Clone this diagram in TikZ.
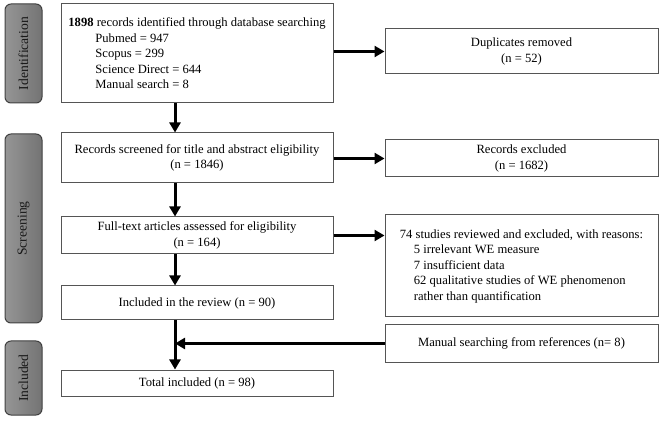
\documentclass[tikz,border=0pt]{standalone}
\usepackage{fontspec}
\setmainfont{Liberation Serif}
\usetikzlibrary{arrows.meta,positioning,calc}
\definecolor{frame}{RGB}{85,85,85}
\definecolor{phasedark}{RGB}{115,115,115}
\definecolor{phaselight}{RGB}{150,150,150}

\begin{document}
\begin{tikzpicture}[x=1pt,y=1pt]

		\def\bw{272}
		\def\flow{175}

		\tikzset{box/.style={draw=frame,line width=1pt,fill=white,minimum width=\bw pt,inner sep=0pt,font=\fontsize{12.6}{15.5}\selectfont,align=center}}
		\tikzset{phase/.style={draw=black!75,line width=1pt,rounded corners=6pt,minimum height=37pt,inner sep=0pt,left color=phaselight,right color=phasedark,shading angle=90,font=\fontsize{13.6}{15}\selectfont,text=black!90}}
		\tikzset{line/.style={draw,line width=3pt}}
		\tikzset{arrow/.style={line,-{Triangle[length=10pt,width=11pt]}}}

		\useasboundingbox (0,0) rectangle (663,420);

		% phases
		\node[phase,rotate=90,minimum width=99pt] (idlab) at (23.5,366.5) {Identification};
		\node[phase,rotate=90,minimum width=189pt] (scrlab) at (23.5,191.5) {Screening};
		\node[phase,rotate=90,minimum width=74pt] (inclab) at (23.5,42) {Included};

		% main column
		\node[box,minimum height=99pt,align=left] (rec) at (197,366.5) {\textbf{1898} records identified through database searching\\
			\hspace*{27pt}Pubmed = 947\\
			\hspace*{27pt}Scopus = 299\\
			\hspace*{27pt}Science Direct = 644\\
			\hspace*{27pt}Manual search = 8};
		\node[box,minimum height=50pt] (scrn) at (197,262) {Records screened for title and abstract eligibility\\(n = 1846)};
		\node[box,minimum height=37pt] (full) at (197,184.5) {Full-text articles assessed for eligibility\\(n = 164)};
		\node[box,minimum height=34pt] (incl) at (197,117) {Included in the review (n = 90)};
		\node[box,minimum height=26pt] (total) at (197,37) {Total included (n = 98)};

		% side column
		\node[box,minimum width=273pt,minimum height=45pt] (dup) at (521.5,368.5) {Duplicates removed\\(n = 52)};
		\node[box,minimum width=273pt,minimum height=37pt] (excl) at (521.5,261.5) {Records excluded\\(n = 1682)};
		\node[box,minimum width=273pt,minimum height=102pt,align=left] (why) at (521.5,154) {74 studies reviewed and excluded, with reasons:\\
			\hspace*{14pt}5 irrelevant WE measure\\
			\hspace*{14pt}7 insufficient data\\
			\hspace*{14pt}62 qualitative studies of WE phenomenon\\
			\hspace*{14pt}rather than quantification};
		\node[box,minimum width=273pt,minimum height=37pt] (man) at (521.5,76.5) {Manual searching from references (n= 8)};

		\coordinate (spine) at (\flow,0);

		\path[arrow] (rec.south -| spine) -- (scrn.north -| spine);
		\path[arrow] (scrn.south -| spine) -- (full.north -| spine);
		\path[arrow] (full.south -| spine) -- (incl.north -| spine);
		\path[arrow] (incl.south -| spine) -- (total.north -| spine);

		\path[arrow] (rec.east |- dup.west) -- (dup.west);
		\path[arrow] (scrn.east |- excl.west) -- (excl.west);
		\path[arrow] (full.east) -- (full.east -| why.west);
		\path[arrow] (man.west) -- (man.west -| spine);

\end{tikzpicture}
\end{document}
